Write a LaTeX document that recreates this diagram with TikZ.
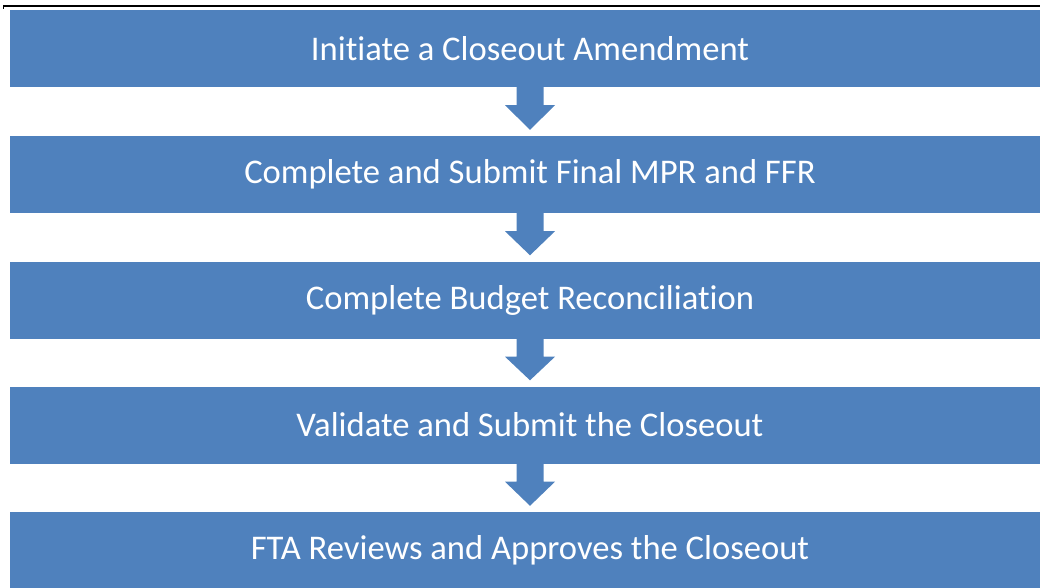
\documentclass[tikz,border=0pt]{standalone}
\usepackage{fontspec}
\setmainfont[Ligatures=NoCommon]{Carlito}
\usetikzlibrary{calc}
\definecolor{boxblue}{HTML}{4F81BD}
\tikzset{
  stepbox/.style={fill=boxblue, draw=none, minimum width=1040pt, minimum height=77pt,
    inner sep=0pt, text=white, font=\fontsize{34.6pt}{40pt}\selectfont},
  flowarrow/.style={fill=boxblue, draw=none}
}
\newcommand{\flowarr}[2]{%
  \fill[flowarrow] ($(#1.south)+(-13.5pt,0)$) -- ($(#1.south)+(13.5pt,0)$)
    -- ($(#1.south)+(13.5pt,-18pt)$) -- ($(#1.south)+(25pt,-18pt)$)
    -- ($(#2.north)+(0,6pt)$) -- ($(#1.south)+(-25pt,-18pt)$)
    -- ($(#1.south)+(-13.5pt,-18pt)$) -- cycle;}
\begin{document}
\begin{tikzpicture}[x=1pt,y=-1pt]
\useasboundingbox (0,0) rectangle (1040,588);
\node[stepbox] (b1) at (530,48.5) {Initiate a Closeout Amendment};
\node[stepbox] (b2) at (530,174.5) {Complete and Submit Final MPR and FFR};
\node[stepbox] (b3) at (530,300) {Complete Budget Reconciliation};
\node[stepbox] (b4) at (530,425) {Validate and Submit the Closeout};
\node[stepbox] (b5) at (530,550.5) {FTA Reviews and Approves the Closeout};
\flowarr{b1}{b2}
\flowarr{b2}{b3}
\flowarr{b3}{b4}
\flowarr{b4}{b5}
\coordinate (tl) at (3,6);
\coordinate (tr) at (1040,6);
\draw[line width=2.6pt] (tl) -- (tr);
\draw[line width=1.2pt] (3.6,5) -- (3.6,9);
\end{tikzpicture}
\end{document}
